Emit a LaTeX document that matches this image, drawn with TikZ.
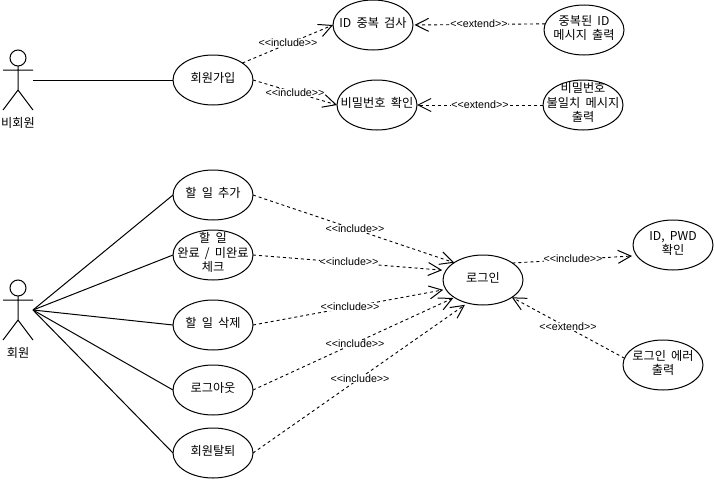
\documentclass[tikz,border=0pt]{standalone}
\usepackage{fontspec}
\setmainfont[WordSpace=1.9]{Noto Sans CJK KR}
\newfontfamily\labfont{Liberation Sans}
\usetikzlibrary{arrows.meta,shapes.geometric}
\newcommand\uct[1]{\raisebox{-5pt}{\smash{\makebox[0pt]{\begin{tabular}{@{}c@{}}#1\end{tabular}}}}}
\tikzset{
  uc/.style={draw=black,line width=1pt,ellipse,minimum width=80pt,minimum height=50pt,inner sep=0pt,outer sep=0pt,font=\fontsize{12.2}{14.5}\selectfont},
  dep/.style={draw=black,line width=0.9pt,dash pattern=on 3pt off 3pt,-{Straight Barb[length=13pt,width=13pt,line width=1pt]}},
  lab/.style={fill=white,inner sep=0pt,font=\labfont\fontsize{10.7}{12}\selectfont},
  assoc/.style={draw=black,line width=1pt},
  actorlab/.style={inner sep=0pt,font=\fontsize{12.2}{14}\selectfont}
}
\begin{document}
\begin{tikzpicture}[x=1pt,y=-1pt]
\useasboundingbox[fill=white] (0,0) rectangle (714,479);
% use cases
\node[uc] (join) at (213,80) {\uct{회원가입}};
\node[uc] (idchk) at (373,25) {\uct{ID 중복 검사}};
\node[uc] (pwd) at (377,105) {\uct{비밀번호 확인}};
\node[uc] (dup) at (584,30) {\uct{중복된 ID\\메시지 출력}};
\node[uc] (mis) at (583,105) {\uct{비밀번호\\불일치 메시지\\출력}};
\node[uc] (add) at (213,195) {\uct{할 일 추가}};
\node[uc] (done) at (213,255) {\uct{할 일\\완료 / 미완료\\체크}};
\node[uc] (del) at (213,325) {\uct{할 일 삭제}};
\node[uc] (logout) at (213,390) {\uct{로그아웃}};
\node[uc] (quit) at (213,453) {\uct{회원탈퇴}};
\node[uc] (login) at (483,280) {\uct{로그인}};
\node[uc] (idpwd) at (673,245) {\uct{ID, PWD\\확인}};
\node[uc] (err) at (663,365) {\uct{로그인 에러\\출력}};
% actors
\draw[assoc] (18,58) circle (8);
\draw[assoc] (18,66) -- (18,90) (3,70) -- (33,70) (3,110) -- (18,90) -- (33,110);
\draw[assoc] (18,288) circle (8);
\draw[assoc] (18,296) -- (18,320) (3,300) -- (33,300) (3,340) -- (18,320) -- (33,340);
\node[actorlab] (nonmember) at (18,123) {비회원};
\node[actorlab] (member) at (18,353) {회원};
\coordinate (nonhand) at (33,80);
\coordinate (memhand) at (33,310);
% associations
\draw[assoc] (nonhand) -- (join.west);
\draw[assoc] (memhand) -- (add.west);
\draw[assoc] (memhand) -- (done.west);
\draw[assoc] (memhand) -- (del.west);
\draw[assoc] (memhand) -- (logout.west);
\draw[assoc] (memhand) -- (quit.west);
% dependencies
\draw[dep] (join.30) -- (idchk.west);
\draw[dep] (join.east) -- (pwd.west);
\draw[dep] (dup.171) -- ([xshift=1.5pt]idchk.east);
\draw[dep] (mis.west) -- (pwd.east);
\draw[dep] (add.east) -- (login.149);
\draw[dep] (done.east) -- ([xshift=-4pt]login.165);
\draw[dep] (del.east) -- ([xshift=-3pt]login.195);
\draw[dep] (logout.east) -- ([xshift=-2pt]login.213);
\draw[dep] (quit.east) -- ([yshift=-2.5pt]login.231);
\draw[dep] (login.30) -- ([xshift=-5pt]idpwd.197);
\draw[dep] (err.170) -- (login.329);
% labels
\node[lab] (l1) at (288,43) {<{}<include>{}>};
\node[lab] (l2) at (295,93) {<{}<include>{}>};
\node[lab] (l3) at (479,24) {<{}<extend>{}>};
\node[lab] (l4) at (480,105) {<{}<extend>{}>};
\node[lab] (l5) at (355,229) {<{}<include>{}>};
\node[lab] (l6) at (349,262) {<{}<include>{}>};
\node[lab] (l7) at (350,307) {<{}<include>{}>};
\node[lab] (l8) at (355,344) {<{}<include>{}>};
\node[lab] (l9) at (360,379) {<{}<include>{}>};
\node[lab] (l10) at (573,259) {<{}<include>{}>};
\node[lab] (l11) at (568,327) {<{}<extend>{}>};
\end{tikzpicture}
\end{document}
